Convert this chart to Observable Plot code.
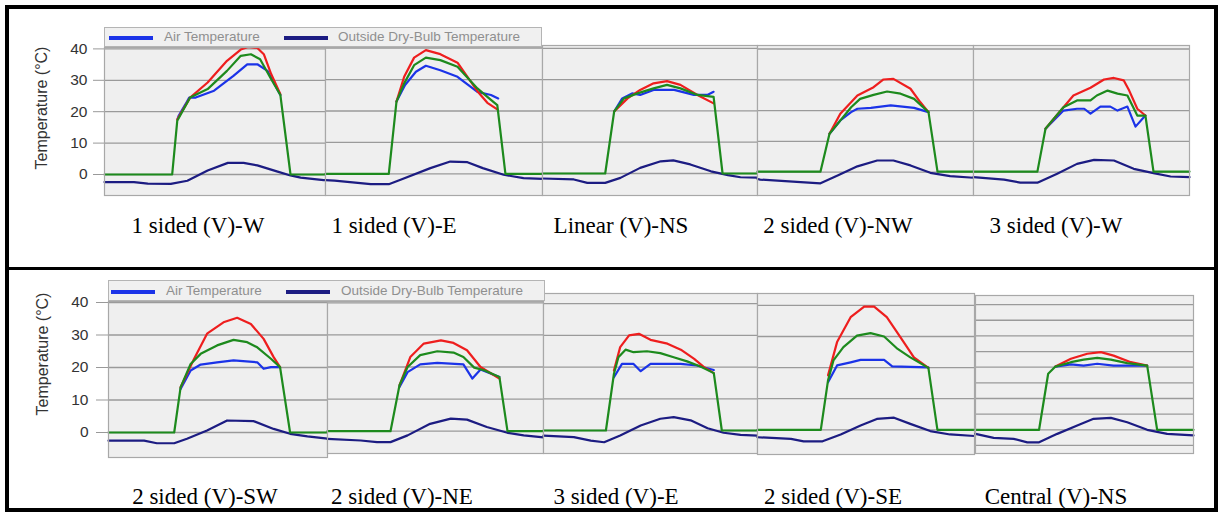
<!DOCTYPE html>
<html><head><meta charset="utf-8">
<script src="https://cdn.jsdelivr.net/npm/d3@7"></script>
<script src="https://cdn.jsdelivr.net/npm/@observablehq/plot@0.6"></script>
<style>
body{margin:0;background:#fff;}
#root{position:relative;width:1219px;height:513px;overflow:hidden;background:#fff;font-family:"Liberation Sans",Arial,sans-serif;}
.abs{position:absolute;}
.lbl{position:absolute;width:260px;text-align:center;font-family:"Liberation Serif","Times New Roman",serif;font-size:23px;line-height:23px;color:#000;white-space:nowrap;}
.ytitle{position:absolute;font-size:16px;line-height:16px;color:#333;white-space:nowrap;transform:translate(-50%,-50%) rotate(-90deg);}
.legend{position:absolute;background:#f0f0f0;border:1px solid #b4b4b4;box-sizing:border-box;}
.sw{position:absolute;height:4px;}
.lt{position:absolute;font-size:13.5px;line-height:14px;color:#8f8f8f;white-space:nowrap;}
.bk{position:absolute;background:#000;}
</style></head>
<body><div id="root"></div>
<script>
// ---------- data (hour of day, °C) ----------
const panelNames = ["1 sided (V)-W","1 sided (V)-E","Linear (V)-NS","2 sided (V)-NW","3 sided (V)-W",
                    "2 sided (V)-SW","2 sided (V)-NE","3 sided (V)-E","2 sided (V)-SE","Central (V)-NS"];
const legendLabels = ["Air Temperature","Outside Dry-Bulb Temperature"];
const axisTicks = [0,10,20,30,40];
const gridMain = [0,10,20,30,40];
const gridCentral = [-5,0,5,10,15,20,25,30,35,40];
const yTitle = "Temperature (°C)";

// 1 sided (V)-W
const p1Outside = [[0,-2.4],[3.2,-2.4],[4.7,-2.9],[7.2,-3.0],[9.0,-2.0],[11.2,1.3],[13.4,3.7],[15.1,3.7],[16.6,2.9],[18.8,0.9],[20.2,-0.3],[21.3,-1.0],[23.8,-1.8],[24,-1.8]];
const p1Air = [[7.95,17.8],[8.07,18.8],[8.8,22.4],[9.2,24.5],[9.9,24.5],[11.9,26.7],[14.0,31.4],[15.5,35.1],[16.6,35.1],[17.7,33.0],[19.1,25.3]];
const p1Red = [[7.9,17.5],[9.3,24.5],[11.2,29.3],[13.3,36.2],[14.8,39.8],[15.6,40.6],[16.6,40.3],[17.3,38.3],[18.1,32.0],[19.1,25.6]];
const p1Green = [[0,0],[7.35,0],[7.9,17.1],[9.3,24.5],[11.2,27.2],[13.3,33.0],[14.8,37.8],[15.9,38.3],[16.9,36.7],[18.0,30.9],[19.1,25.3],[20.2,0],[24,0]];
// 1 sided (V)-E
const p2Outside = [[0,-2.0],[1.0,-2.2],[5.0,-3.3],[7.0,-3.3],[8.3,-1.9],[11.6,1.8],[13.8,3.9],[15.7,3.7],[17.4,1.8],[19.7,-0.3],[21.9,-1.4],[24,-1.6]];
const p2Air = [[7.85,23.0],[8.8,28.3],[10.0,32.5],[11.1,34.4],[12.7,33.0],[14.6,30.9],[16.8,26.1],[18.3,25.1],[19.1,24.0]];
const p2Red = [[7.85,23.0],[8.7,30.9],[9.8,37.0],[11.1,39.4],[12.7,38.1],[14.6,35.4],[16.8,26.3],[17.9,22.6],[19.0,20.5]];
const p2Green = [[0,0],[7.0,0],[7.85,23.0],[8.7,28.8],[9.8,34.6],[11.1,37.0],[12.7,36.2],[14.6,34.1],[16.8,27.2],[17.9,24.5],[19.0,21.9],[19.9,0],[24,0]];
// Linear (V)-NS
const p3Outside = [[0,-1.6],[3.5,-1.9],[5.0,-3.0],[7.0,-3.0],[8.7,-1.4],[10.9,1.8],[13.2,3.9],[14.6,4.2],[16.5,2.9],[18.8,0.7],[20.7,-0.5],[22.1,-1.2],[24,-1.3]];
const p3Air = [[8.0,19.8],[8.9,24.0],[10.0,25.6],[10.9,25.1],[12.4,26.7],[14.7,26.7],[16.9,25.1],[18.4,25.1],[19.1,26.1]];
const p3Red = [[8.0,19.8],[9.5,24.0],[10.9,26.7],[12.4,28.8],[13.9,29.5],[15.4,28.3],[17.3,25.1],[19.1,22.4]];
const p3Green = [[0,0],[7.0,0],[8.0,19.8],[9.1,24.0],[10.6,25.6],[12.4,27.2],[13.9,28.3],[15.4,27.2],[17.3,25.1],[19.1,24.5],[20.1,0],[24,0]];
// 2 sided (V)-NW
const p4Outside = [[0,-2.2],[0.3,-2.4],[4.8,-3.2],[7.0,-3.6],[8.9,-1.1],[11.1,1.9],[13.3,3.8],[15.1,3.8],[17.0,2.2],[19.2,-0.2],[21.4,-1.3],[24,-1.8]];
const p4Air = [[8.0,12.5],[9.2,16.8],[10.4,19.5],[11.1,20.6],[12.6,20.9],[14.8,21.7],[17.4,20.9],[19.0,19.5]];
const p4Red = [[8.0,12.5],[9.2,19.0],[11.1,24.9],[12.9,27.6],[14.0,30.1],[15.1,30.3],[17.0,27.1],[18.1,22.7],[19.0,19.5]];
const p4Green = [[0,0.2],[7.0,0.2],[8.0,12.5],[8.9,15.7],[10.4,21.1],[11.4,23.8],[12.9,25.1],[14.4,26.2],[15.9,25.5],[17.4,23.8],[19.0,19.5],[20.0,0.2],[24,0.2]];
// 3 sided (V)-W
const p5Outside = [[0,-1.6],[3.4,-2.4],[5.2,-3.4],[7.1,-3.4],[9.3,-0.5],[11.5,2.7],[13.4,4.0],[15.6,3.8],[17.8,1.1],[20.0,-0.3],[21.9,-1.4],[24,-1.6]];
const p5Air = [[8.0,14.1],[10.0,20.0],[11.5,20.6],[12.3,20.6],[13.0,19.0],[14.1,21.3],[15.2,21.3],[16.0,20.0],[17.1,21.3],[18.0,14.8],[19.1,18.4]];
const p5Red = [[8.0,14.1],[10.0,21.1],[11.1,24.9],[13.0,27.4],[14.5,30.1],[15.6,30.6],[16.7,29.8],[17.3,26.5],[18.2,20.6],[19.1,18.4]];
const p5Green = [[0,0.2],[7.1,0.2],[8.0,14.1],[8.9,17.3],[10.0,21.1],[11.5,23.3],[13.0,23.3],[13.7,24.9],[14.9,26.5],[16.0,25.5],[17.1,24.9],[18.2,18.4],[19.1,18.4],[20.0,0.2],[24,0.2]];
// 2 sided (V)-SW
const p6Outside = [[0,-2.5],[3.9,-2.5],[5.3,-3.3],[7.2,-3.3],[8.6,-1.9],[10.8,0.6],[13.0,3.7],[15.9,3.5],[18.1,1.1],[19.9,-0.4],[21.8,-1.2],[24,-1.9]];
const p6Air = [[7.9,13.4],[9.0,19.1],[10.1,20.9],[11.9,21.6],[13.7,22.2],[16.3,21.6],[17.0,19.6],[17.8,20.1],[18.8,20.1]];
const p6Red = [[7.9,13.9],[9.3,22.2],[10.8,30.4],[12.6,33.9],[14.1,35.3],[15.6,33.4],[17.0,28.8],[18.1,23.2],[18.8,20.1]];
const p6Green = [[0,0],[7.2,0],[7.9,13.9],[9.0,21.1],[10.1,24.2],[11.9,26.8],[13.7,28.5],[15.2,27.8],[16.3,26.2],[17.8,22.7],[18.8,20.1],[19.9,0],[24,0]];
// 2 sided (V)-NE
const p7Outside = [[0,-2.4],[3.7,-2.9],[5.5,-3.4],[7.0,-3.4],[8.9,-1.3],[11.4,2.3],[13.7,3.9],[15.5,3.6],[17.7,1.3],[20.0,-0.5],[21.8,-1.3],[24,-1.9]];
const p7Air = [[8.0,13.8],[8.9,18.4],[10.3,20.8],[12.2,21.3],[15.1,20.8],[16.1,16.4],[17.0,19.2],[19.1,16.9]];
const p7Red = [[8.0,14.3],[9.2,23.1],[10.7,27.3],[12.6,28.3],[14.0,27.5],[15.5,25.2],[17.0,20.0],[19.1,16.4]];
const p7Green = [[0,0],[7.0,0],[8.0,14.3],[8.9,20.0],[10.3,23.7],[12.2,24.9],[14.0,24.5],[15.1,23.1],[16.3,19.8],[17.4,19.0],[19.1,16.9],[20.0,0],[24,0]];
// 3 sided (V)-E
const p8Outside = [[0,-1.6],[3.4,-2.1],[5.3,-3.2],[6.8,-3.7],[8.6,-1.6],[10.9,1.6],[13.1,3.7],[14.6,4.2],[16.5,3.2],[18.4,0.7],[20.2,-0.7],[22.1,-1.4],[24,-1.6]];
const p8Air = [[7.9,16.8],[8.8,21.0],[10.1,21.0],[10.9,18.7],[12.0,21.0],[15.4,21.0],[17.2,20.5],[19.1,19.1]];
const p8Red = [[7.9,18.9],[8.6,26.3],[9.6,30.0],[10.7,30.5],[12.0,28.6],[13.9,27.4],[15.4,25.5],[16.9,22.6],[18.0,20.0],[19.1,18.1]];
const p8Green = [[0,0],[7.0,0],[7.9,17.9],[8.4,23.1],[9.2,25.5],[10.1,24.7],[11.6,25.0],[13.1,24.4],[14.6,23.1],[16.1,21.8],[17.6,20.2],[19.1,18.1],[20.0,0],[24,0]];
// 2 sided (V)-SE
const p9Outside = [[0,-2.4],[3.7,-2.9],[5.1,-3.7],[7.2,-3.7],[9.2,-1.5],[11.4,1.4],[13.2,3.5],[15.1,3.9],[16.9,1.9],[19.1,-0.4],[21.3,-1.5],[24,-2.0]];
const p9Air = [[7.8,15.3],[8.8,20.7],[10.3,21.7],[11.4,22.5],[14.0,22.5],[14.9,20.4],[18.9,20.1]];
const p9Red = [[7.8,17.5],[8.8,28.2],[10.3,36.2],[11.8,39.6],[12.9,39.6],[14.3,36.2],[15.8,29.8],[17.3,23.3],[18.9,19.9]];
const p9Green = [[0,0],[7.0,0],[7.8,15.9],[8.4,22.3],[9.5,26.6],[11.0,30.3],[12.5,31.1],[14.0,30.0],[15.5,26.0],[16.9,23.3],[18.9,19.9],[19.9,0],[24,0]];
// Central (V)-NS
const p10Outside = [[0,-1.3],[2.0,-2.6],[4.2,-2.9],[5.7,-4.0],[7.0,-4.0],[9.0,-1.3],[11.2,1.4],[13.0,3.5],[14.9,3.8],[16.7,2.4],[18.9,0],[21.1,-1.3],[24,-1.8]];
const p10Air = [[8.8,20.2],[10.5,20.9],[11.9,20.5],[13.4,21.1],[15.2,20.5],[18.9,20.5]];
const p10Red = [[8.8,20.2],[10.5,22.7],[12.3,24.3],[13.8,24.8],[15.2,23.7],[17.1,21.6],[18.9,20.5]];
const p10Green = [[0,0],[7.0,0],[8.0,17.9],[8.8,20.2],[10.5,21.6],[11.9,22.4],[13.4,23.0],[14.9,22.4],[16.7,21.3],[18.9,20.5],[20.0,0],[24,0]];

// ---------- layout ----------
const colors = {outside:"#1c1c82", air:"#1b33e8", red:"#ee1e1e", green:"#1d8a1d"};
const series = [
  [p1Outside,p1Air,p1Red,p1Green],[p2Outside,p2Air,p2Red,p2Green],[p3Outside,p3Air,p3Red,p3Green],
  [p4Outside,p4Air,p4Red,p4Green],[p5Outside,p5Air,p5Red,p5Green],[p6Outside,p6Air,p6Red,p6Green],
  [p7Outside,p7Air,p7Red,p7Green],[p8Outside,p8Air,p8Red,p8Green],[p9Outside,p9Air,p9Red,p9Green],
  [p10Outside,p10Air,p10Red,p10Green]];
const geo = [
  {left:104,right:325,top:47,bottom:195,zero:174,k:3.14,axis:true},
  {left:325,right:542,top:47,bottom:195,zero:173.3,k:3.14},
  {left:542,right:757,top:45,bottom:195,zero:173,k:3.13},
  {left:757,right:973,top:45,bottom:195,zero:171.7,k:3.08},
  {left:973,right:1189,top:45,bottom:195,zero:171.7,k:3.08},
  {left:108,right:327,top:301,bottom:457,zero:432,k:3.25,axis:true},
  {left:327,right:543,top:301,bottom:453,zero:430.7,k:3.21},
  {left:543,right:757,top:293,bottom:453,zero:430,k:3.17},
  {left:757,right:974,top:293,bottom:454,zero:429.3,k:3.11},
  {left:975,right:1193,top:295,bottom:453,zero:429.3,k:3.13,central:true}];
const labelPos = [[198,214],[394,214],[621,214],[838,214],[1056,214],[205,485],[402,485],[616,485],[833,485],[1056,485]];

const root = document.getElementById("root");
function el(cls, style, text){const d=document.createElement("div");d.className=cls;Object.assign(d.style,style);if(text)d.textContent=text;root.appendChild(d);return d;}

geo.forEach((g,i)=>{
  const w=g.right-g.left, h=g.bottom-g.top, ml=g.axis?84:0;
  const [outside,air,red,green]=series[i];
  const ln=(data,c)=>Plot.line(data,{x:d=>d[0],y:d=>d[1],stroke:c,strokeWidth:2.2,strokeLinejoin:"round"});
  const marks=[
    Plot.frame({fill:"#efefef",stroke:"none"}),
    Plot.gridY({ticks:g.central?gridCentral:gridMain,stroke:"#9a9a9a",strokeOpacity:1,strokeWidth:1.3}),
    ln(outside,colors.outside), ln(air,colors.air), ln(red,colors.red), ln(green,colors.green),
    Plot.frame({stroke:"#a8a8a8",strokeWidth:1.2})
  ];
  if(g.axis) marks.push(Plot.axisY({ticks:axisTicks,tickSize:g.left===104?11:12,tickPadding:g.left===104?6:8,fontSize:15.5,stroke:"#999",fill:"#333",label:null}));
  const chart=Plot.plot({
    width:w+ml,height:h,marginLeft:ml,marginRight:0,marginTop:0,marginBottom:0,
    x:{domain:[0,24],axis:null},
    y:{domain:[(g.zero-g.bottom)/g.k,(g.zero-g.top)/g.k],axis:null},
    style:{background:"transparent",fontFamily:"Liberation Sans, Arial, sans-serif",overflow:"visible"},
    marks
  });
  const box=el("abs",{left:(g.left-ml)+"px",top:g.top+"px",width:(w+ml)+"px",height:h+"px"});
  box.appendChild(chart);
  el("lbl",{left:(labelPos[i][0]-130)+"px",top:labelPos[i][1]+"px"},panelNames[i]);
});

// legends
[[104,27,438,20,108,283,163,337],[108,280,437,21,110,285,165,340]].forEach(([x,y,w,h,s1,s2,t1,t2])=>{
  const lg=el("legend",{left:x+"px",top:y+"px",width:w+"px",height:h+"px"});
  const mid=h/2-2;
  [[s1,colors.air,t1,legendLabels[0]],[s2,colors.outside,t2,legendLabels[1]]].forEach(([sx,c,tx,t])=>{
    const s=document.createElement("div");s.className="sw";Object.assign(s.style,{left:(sx-x)+"px",top:mid+"px",width:"44px",background:c});lg.appendChild(s);
    const tt=document.createElement("div");tt.className="lt";Object.assign(tt.style,{left:(tx-x)+"px",top:(h/2-8)+"px"});tt.textContent=t;lg.appendChild(tt);
  });
});

// y titles
el("ytitle",{left:"42px",top:"108px"},yTitle);
el("ytitle",{left:"43px",top:"354px"},yTitle);

// outer frame
el("bk",{left:"5px",top:"5px",width:"1213px",height:"4px"});
el("bk",{left:"5px",top:"508px",width:"1213px",height:"4px"});
el("bk",{left:"5px",top:"5px",width:"4px",height:"507px"});
el("bk",{left:"1214px",top:"5px",width:"4px",height:"507px"});
el("bk",{left:"5px",top:"267px",width:"1213px",height:"3px"});
</script></body></html>
